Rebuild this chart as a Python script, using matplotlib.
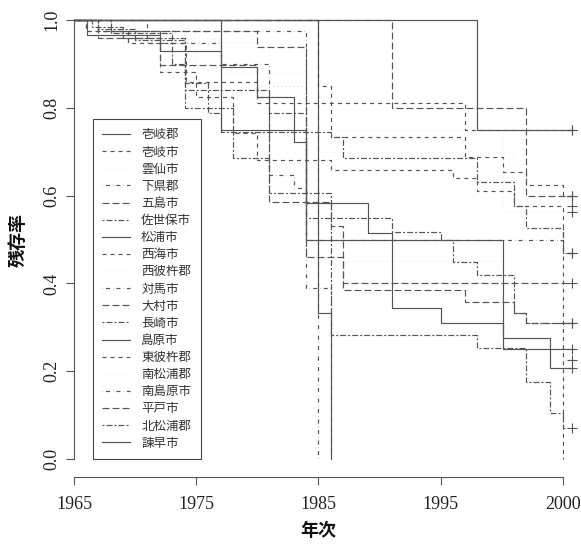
import matplotlib
matplotlib.use('Agg')
import matplotlib.pyplot as plt
from matplotlib.lines import Line2D
from matplotlib.font_manager import FontProperties

plt.rcParams['lines.scale_dashes'] = False

# ---------------- data (time = years since 1965, survival) ----------------
names = ['壱岐郡', '壱岐市', '雲仙市', '下県郡', '五島市', '佐世保市', '松浦市', '西海市',
         '西彼杵郡', '対馬市', '大村市', '長崎市', '島原市', '東彼杵郡', '南松浦郡',
         '南島原市', '平戸市', '北松浦郡', '諫早市']
lty_codes = [1, 2, 3, 4, 5, 6, 1, 2, 3, 4, 5, 6, 1, 2, 3, 4, 5, 6, 1]

t_01 = [33.0];                                  s_01 = [0.75]
t_02 = [1.0, 4.4, 9.2, 15.0, 32.0];             s_02 = [0.975, 0.947, 0.859, 0.81, 0.75]
t_03 = [8.0, 16.0, 19.0, 35.1];                 s_03 = [0.95, 0.85, 0.75, 0.563]
t_04 = [3.0, 19.0, 21.0];                       s_04 = [0.975, 0.39, 0.0]
t_05 = [26.0, 37.0];                            s_05 = [0.80, 0.60]
t_06 = [2.0, 5.0, 9.1, 16.0, 19.0, 26.0, 30.0, 31.0, 33.0, 36.0, 37.0]
s_06 = [0.98, 0.955, 0.84, 0.788, 0.549, 0.517, 0.50, 0.449, 0.419, 0.333, 0.31]
t_07 = [20.0, 21.0];                            s_07 = [0.333, 0.0]
t_08 = [20.0, 21.0, 32.0, 35.1, 37.0, 40.0];    s_08 = [0.85, 0.733, 0.688, 0.654, 0.624, 0.60]
t_09 = [5.0, 12.0, 19.0, 36.0];                 s_09 = [0.96, 0.88, 0.70, 0.576]
t_10 = [20.0];                                  s_10 = [0.0]
t_11 = [2.0, 7.0, 15.0, 16.0, 21.0, 22.0];      s_11 = [0.96, 0.897, 0.825, 0.585, 0.53, 0.40]
t_12 = [1.5, 4.0, 9.1, 11.0, 12.0, 21.0, 22.0, 33.0, 36.0, 37.0, 40.0]
s_12 = [0.985, 0.96, 0.80, 0.788, 0.745, 0.733, 0.685, 0.63, 0.576, 0.526, 0.469]
t_13 = [12.0, 19.0, 35.1];                      s_13 = [0.75, 0.50, 0.25]
t_14 = [1.0, 7.0, 10.0, 13.0, 15.0, 21.0, 31.0, 33.0, 36.0, 40.0]
s_14 = [0.975, 0.882, 0.825, 0.743, 0.68, 0.658, 0.64, 0.61, 0.576, 0.0]
t_15 = [4.0, 10.0, 19.0, 21.0, 35.0, 40.0];     s_15 = [0.95, 0.85, 0.60, 0.45, 0.40, 0.226]
t_16 = [6.0, 12.0, 16.0, 18.0, 19.0, 40.0];     s_16 = [0.947, 0.90, 0.647, 0.617, 0.50, 0.469]
t_17 = [2.0, 15.0, 19.0, 22.0, 32.0, 36.0, 37.0]
s_17 = [0.975, 0.938, 0.46, 0.385, 0.358, 0.333, 0.31]
t_18 = [3.0, 8.0, 9.1, 11.0, 13.0, 16.0, 21.0, 33.0, 37.0, 39.0, 40.0]
s_18 = [0.97, 0.90, 0.856, 0.80, 0.685, 0.606, 0.282, 0.253, 0.175, 0.105, 0.071]
t_19 = [1.1, 7.0, 12.0, 15.0, 18.0, 19.0, 24.05, 26.0, 30.0, 35.1, 39.0]
s_19 = [0.965, 0.929, 0.893, 0.825, 0.722, 0.583, 0.515, 0.344, 0.31, 0.275, 0.207]

end_times = [40.8, 40.8, 40.8, 21.0, 40.8, 40.8, 21.0, 40.8, 40.8, 20.0,
             40.8, 40.8, 40.8, 40.0, 40.8, 40.8, 40.8, 40.8, 40.8]

times = [t_01, t_02, t_03, t_04, t_05, t_06, t_07, t_08, t_09, t_10,
         t_11, t_12, t_13, t_14, t_15, t_16, t_17, t_18, t_19]
survs = [s_01, s_02, s_03, s_04, s_05, s_06, s_07, s_08, s_09, s_10,
         s_11, s_12, s_13, s_14, s_15, s_16, s_17, s_18, s_19]

xtick_pos = [0, 10, 20, 30, 40]
xtick_labels = ['1965', '1975', '1985', '1995', '2000']
ytick_pos = [0.0, 0.2, 0.4, 0.6, 0.8, 1.0]
ytick_labels = ['0.0', '0.2', '0.4', '0.6', '0.8', '1.0']

# ---------------- styles ----------------
LTY = {1: '-',
       2: (0, (2.9, 2.9)),
       3: (0, (0.25, 2.6)),
       4: (0, (0.25, 2.2, 2.9, 2.2)),
       5: (0, (5.0, 2.2)),
       6: (0, (1.45, 1.45, 4.3, 1.45))}
ALPHA = {1: 1.0, 2: 1.0, 3: 0.3, 4: 1.0, 5: 1.0, 6: 1.0}
LC = '#555555'
LW = 0.85

fig = plt.figure(figsize=(5.81, 5.47), dpi=100)
ax = fig.add_axes([74 / 581, (547 - 476.6) / 547, 1 - 74 / 581, (476.6 - 2.4) / 547])
ax.set_xlim(0, 41.5)
ax.set_ylim(-0.04, 1.04)

handles = []
for tt, ss, te, code in zip(times, survs, end_times, lty_codes):
    xs = [0.0] + tt + [te]
    ys = [1.0] + ss + [ss[-1]]
    ax.step(xs, ys, where='post', color=LC, lw=LW, linestyle=LTY[code], alpha=ALPHA[code])
    if ss[-1] > 0 and te > tt[-1]:
        ax.plot([te], [ss[-1]], marker='+', ms=7, mew=0.8, color=LC, linestyle='none')
    handles.append(Line2D([0], [0], color=LC, lw=LW, linestyle=LTY[code], alpha=ALPHA[code]))

# axes styling (R-like)
for side in ['top', 'right']:
    ax.spines[side].set_visible(False)
ax.spines['left'].set_bounds(0, 1)
ax.spines['bottom'].set_bounds(0, 40)
for side in ['left', 'bottom']:
    ax.spines[side].set_color(LC)
    ax.spines[side].set_linewidth(0.8)

serif = FontProperties(family=['Liberation Serif', 'DejaVu Serif'], size=13)
ax.set_xticks(xtick_pos)
ax.set_xticklabels(xtick_labels, fontproperties=serif)
ax.set_yticks(ytick_pos)
ax.set_yticklabels(ytick_labels, fontproperties=serif, rotation=90, va='center')
ax.tick_params(axis='both', length=5.8, width=0.8, color=LC, labelcolor='#222222')
ax.tick_params(axis='x', pad=8)
ax.tick_params(axis='y', pad=4)

cjk = ['Noto Sans CJK JP', 'DejaVu Sans']
fig.text(318.5 / 581, 1 - 530 / 547, '年次', ha='center', va='center',
         fontsize=13, fontweight='bold', family=cjk, color='#111111')
fig.text(18 / 581, 1 - 240 / 547, '残存率', ha='center', va='center', rotation=90,
         fontsize=13, fontweight='bold', family=cjk, color='#111111')

leg = ax.legend(handles, names, loc='upper left',
                bbox_to_anchor=(93 / 581, 1 - 119 / 547), bbox_transform=fig.transFigure,
                prop=FontProperties(family=cjk, size=9), handlelength=2.2,
                handletextpad=0.9, labelspacing=0.33, borderpad=0.75, borderaxespad=0,
                fancybox=False, framealpha=1, edgecolor='#444444')
leg.get_frame().set_linewidth(0.8)
for txt in leg.get_texts():
    txt.set_color('#333333')

fig.savefig('out.png', dpi=100)
